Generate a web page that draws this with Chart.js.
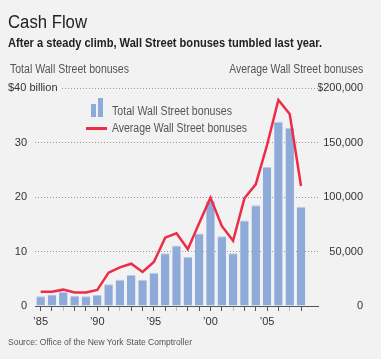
<!DOCTYPE html>
<html>
<head>
<meta charset="utf-8">
<script src="https://cdn.jsdelivr.net/npm/chart.js@4"></script>
<style>
  html, body { margin: 0; padding: 0; background: #f1f2f1; }
  body { width: 381px; height: 359px; position: relative; overflow: hidden;
         font-family: "Liberation Sans", Arial, sans-serif; color: #333; }
  #wrap { position: absolute; left: 0; top: 0; width: 381px; height: 359px; }
  .t { position: absolute; white-space: nowrap; line-height: 1; transform-origin: left top; }
  #title { left: 8px; top: 13px; font-size: 18px; color: #222; }
  #sub { left: 8px; top: 35.7px; font-size: 13px; font-weight: bold; color: #222; }
  #lh { left: 10px; top: 62.7px; font-size: 12.5px; color: #555; }
  #rh { right: 18px; top: 62.7px; font-size: 12.5px; color: #555; transform-origin: right top; }
  #src { left: 8px; top: 337.2px; font-size: 9.5px; color: #555; }
  .lg { font-size: 12.5px; color: #555; left: 111.7px; }
  #lg1 { top: 105.4px; }
  #lg2 { top: 122.4px; }
  .bi { position: absolute; background: #8eaad9; }
  #ln { position: absolute; left: 86px; top: 127px; width: 21px; height: 3px; background: #ee2c47; }
</style>
</head>
<body>
<div id="wrap"><canvas id="graph" width="381" height="359"></canvas></div>
<div class="t" id="title" data-w="79">Cash Flow</div>
<div class="t" id="sub" data-w="314">After a steady climb, Wall Street bonuses tumbled last year.</div>
<div class="t" id="lh" data-w="119">Total Wall Street bonuses</div>
<div class="t" id="rh" data-w="134">Average Wall Street bonuses</div>
<div class="bi" style="left:91px;top:104px;width:5px;height:13px"></div>
<div class="bi" style="left:98px;top:98px;width:5px;height:19px"></div>
<div class="t lg" id="lg1" data-w="120">Total Wall Street bonuses</div>
<div id="ln"></div>
<div class="t lg" id="lg2" data-w="135">Average Wall Street bonuses</div>
<div class="t" id="src" data-w="184">Source: Office of the New York State Comptroller</div>
<script>
  const years = [1985, 1986, 1987, 1988, 1989, 1990, 1991, 1992, 1993, 1994, 1995, 1996,
                 1997, 1998, 1999, 2000, 2001, 2002, 2003, 2004, 2005, 2006, 2007, 2008, 2009];
  // total bonuses, $ billion
  const totalBonus = [1.8, 2.1, 2.6, 1.9, 1.8, 2.0, 4.0, 4.8, 5.7, 4.8, 6.1, 9.7,
                      11.1, 9.0, 13.3, 19.3, 12.8, 9.7, 15.7, 18.5, 25.5, 33.8, 32.7, 18.2];
  // average bonus, $
  const avgBonus = [13100, 13100, 15000, 12500, 12500, 14700, 30600, 35500, 38800, 31200, 40400, 62700,
                    66700, 52000, 75900, 99400, 73400, 59900, 98800, 111600, 147700, 189000, 176100, 110100];
  const leftTicks = [0, 10, 20, 30, 40];
  const rightTicks = [0, 50000, 100000, 150000, 200000];

  // squeeze the html texts to the narrow widths of the original
  document.querySelectorAll("[data-w]").forEach(el => {
    const w = el.getBoundingClientRect().width;
    el.style.transform = "scaleX(" + (Number(el.dataset.w) / w) + ")";
  });

  const font = "'Liberation Sans', Arial, sans-serif";

  const topLabel = {
    id: "topLabel",
    afterDraw(chart) {
      const { ctx } = chart;
      const y = chart.scales.y.getPixelForValue(40);
      ctx.save();
      ctx.fillStyle = "#f1f2f1";
      ctx.fillRect(0, y - 3, 61, 6);
      ctx.font = "11px " + font;
      ctx.fillStyle = "#333";
      ctx.textAlign = "left";
      ctx.textBaseline = "middle";
      ctx.fillText("$40 billion", 8, y);
      ctx.restore();
    }
  };

  const ctx = document.getElementById("graph").getContext("2d");
  const chart = new Chart(ctx, {
    data: {
      labels: years,
      datasets: [
        {
          type: "line",
          label: "Average Wall Street bonuses",
          data: avgBonus,
          yAxisID: "y1",
          borderColor: "#ee2c47",
          borderWidth: 2.5,
          pointRadius: 0,
          tension: 0,
          order: 0
        },
        {
          type: "bar",
          label: "Total Wall Street bonuses",
          data: totalBonus,
          yAxisID: "y",
          backgroundColor: "#8eaad9",
          borderColor: "#b9c9e8",
          borderWidth: { top: 1, left: 0, right: 0, bottom: 0 },
          categoryPercentage: 1,
          barPercentage: 0.75,
          order: 1
        }
      ]
    },
    options: {
      responsive: false,
      animation: false,
      layout: { padding: { left: 0, right: 18, top: 88, bottom: 28 } },
      plugins: { legend: { display: false }, tooltip: { enabled: false } },
      scales: {
        x: {
          type: "category",
          grid: {
            offset: false,
            drawOnChartArea: false,
            tickLength: 5,
            color: c => (c.index >= 24 ? "rgba(0,0,0,0)" : (years[c.index] % 5 === 2 ? "#bbb" : "#555"))
          },
          border: { display: true, color: "#555", width: 1 },
          ticks: {
            autoSkip: false,
            maxRotation: 0,
            padding: 4,
            color: "#333",
            font: { family: font, size: 11 },
            callback: (v, i) => (years[i] % 5 === 0 ? "\u2019" + String(years[i]).slice(2) : "")
          },
          afterFit: s => { s.height = 25; }
        },
        y: {
          position: "left",
          min: 0,
          max: 40,
          afterBuildTicks: s => { s.ticks = leftTicks.map(v => ({ value: v })); },
          grid: {
            color: c => (c.tick.value === 0 ? "rgba(0,0,0,0)" : "#999"),
            drawTicks: false
          },
          border: { display: false, dash: [1, 2] },
          ticks: {
            padding: 8,
            color: "#333",
            font: { family: font, size: 11 },
            callback: v => (v === 40 ? "" : v)
          },
          afterFit: s => { s.width = 35; }
        },
        y1: {
          position: "right",
          min: 0,
          max: 200000,
          afterBuildTicks: s => { s.ticks = rightTicks.map(v => ({ value: v })); },
          grid: { display: false, drawTicks: false },
          border: { display: false },
          ticks: {
            crossAlign: "far",
            padding: 0,
            color: "#333",
            font: { family: font, size: 11 },
            callback: v => (v === 200000 ? "$200,000" : v.toLocaleString("en-US"))
          },
          afterFit: s => { s.width = 45; }
        }
      }
    },
    plugins: [topLabel]
  });
</script>
</body>
</html>
